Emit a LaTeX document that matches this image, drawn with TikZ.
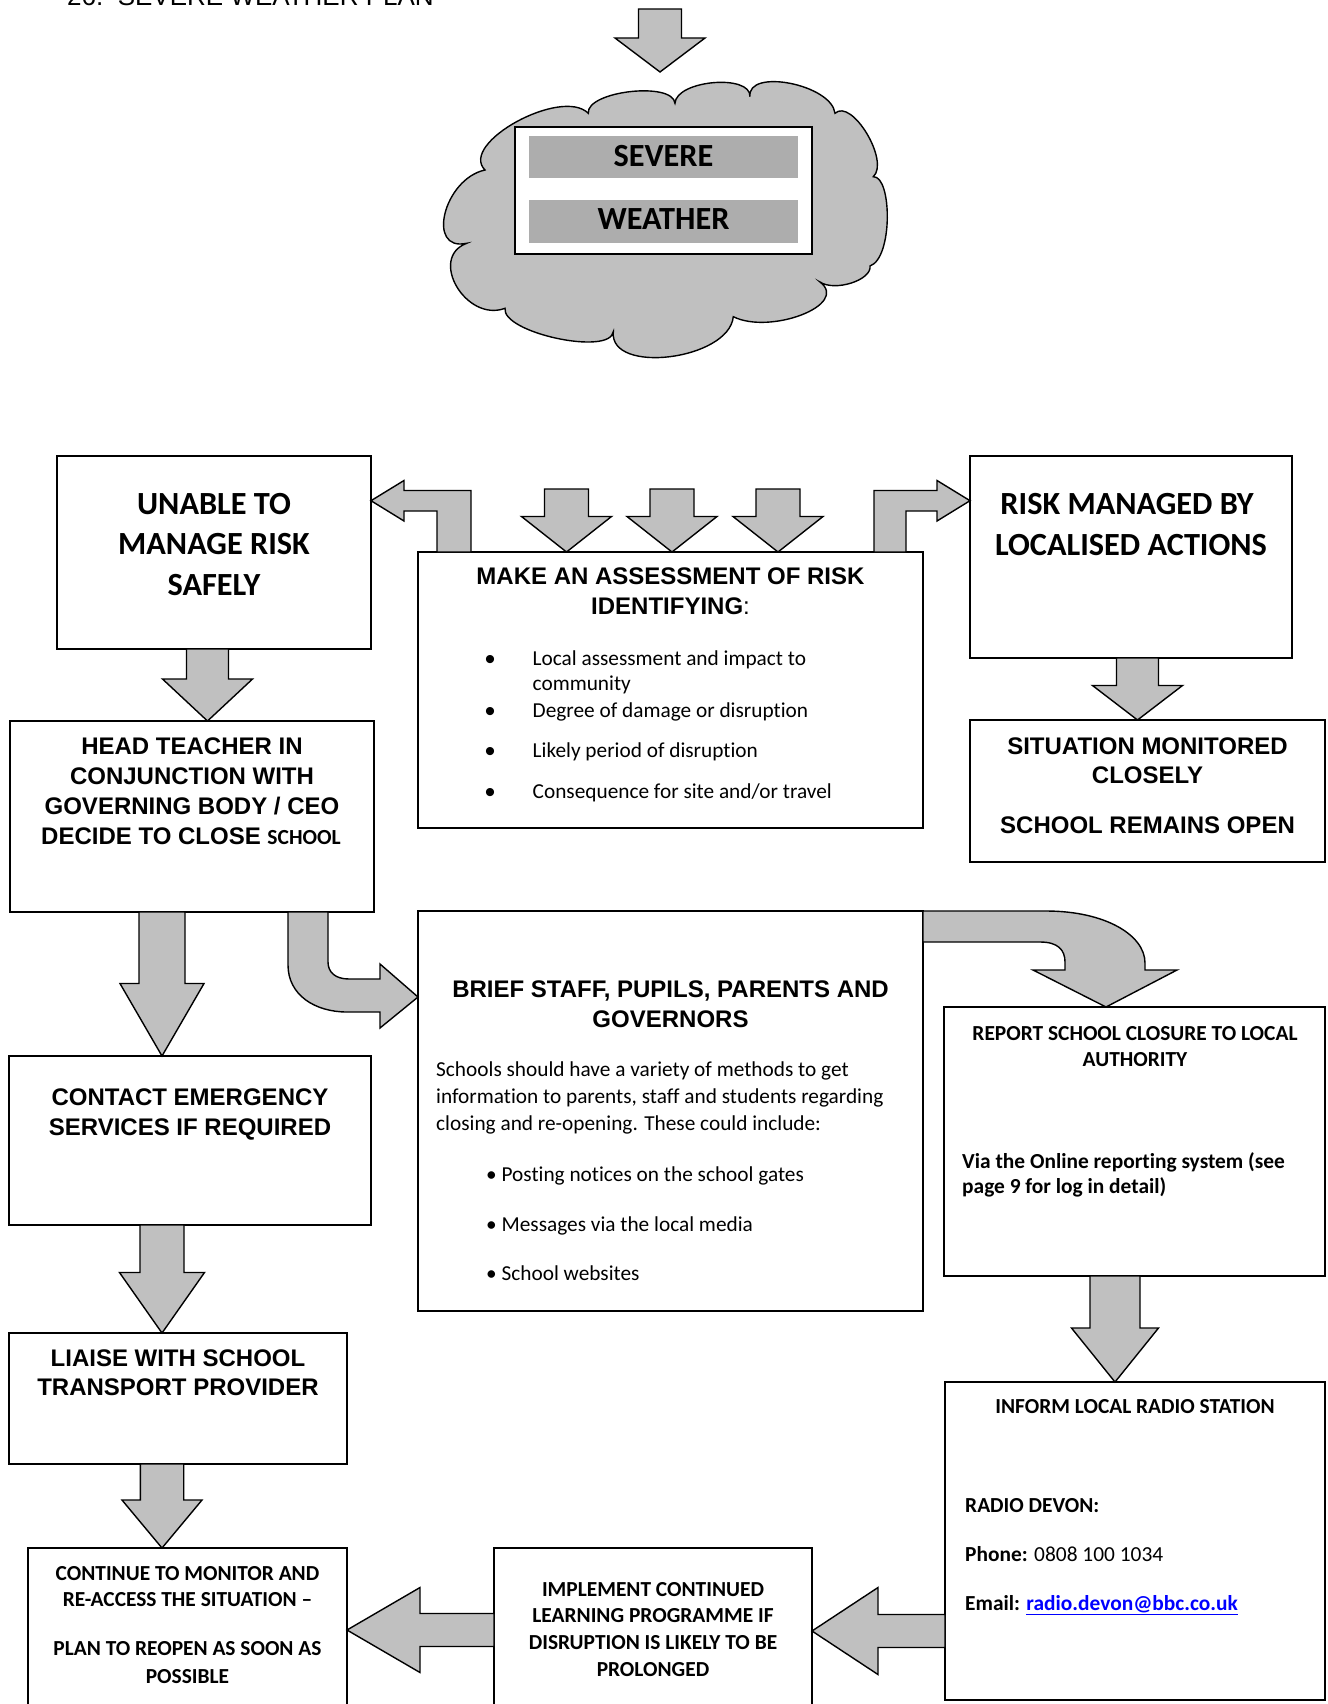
\documentclass[tikz,border=0pt]{standalone}
\usepackage{fontspec}
\setmainfont{Carlito}[Ligatures=NoCommon]
\newfontfamily\arialf{Liberation Sans}
\newfontfamily\calf{Carlito}[Ligatures=NoCommon]
\usetikzlibrary{calc,fit}
\definecolor{arrowgray}{HTML}{C0C0C0}
\definecolor{bargray}{HTML}{ADADAD}
\definecolor{linkblue}{HTML}{0000FF}
\tikzset{
  box/.style={draw=black, line width=1.8pt, fill=white, inner sep=0pt, outer sep=0pt},
  barrow/.style={draw=black, line width=1.4pt, fill=arrowgray, line join=miter},
  ab/.style={font=\arialf\bfseries\fontsize{24}{28}\selectfont, anchor=base, inner sep=0pt},
  cbig/.style={font=\calf\bfseries\fontsize{32.3}{38}\selectfont, anchor=base, inner sep=0pt},
  cb/.style={font=\calf\bfseries\fontsize{21.4}{25}\selectfont, anchor=base, inner sep=0pt},
  cbl/.style={font=\calf\bfseries\fontsize{21.4}{25}\selectfont, anchor=base west, inner sep=0pt},
  cr/.style={font=\calf\fontsize{21.3}{25}\selectfont, anchor=base west, inner sep=0pt},
  bul/.style={font=\arialf\fontsize{30}{34}\selectfont, anchor=base, inner sep=0pt},
}
% vertical block arrow: #1 start (top centre), #2 tip, #3 shaft half width, #4 head half width, #5 head length
\newcommand\darrow[5]{%
  \draw[barrow] let \p1=#1, \p2=#2 in
   (\x1-#3pt,\y1) -- (\x1+#3pt,\y1) -- (\x1+#3pt,\y2+#5pt) -- (\x1+#4pt,\y2+#5pt)
   -- (\x2,\y2) -- (\x1-#4pt,\y2+#5pt) -- (\x1-#3pt,\y2+#5pt) -- cycle;}
% left-pointing block arrow: #1 start (right centre), #2 tip
\newcommand\larrow[5]{%
  \draw[barrow] let \p1=#1, \p2=#2 in
   (\x1,\y1+#3pt) -- (\x2+#5pt,\y1+#3pt) -- (\x2+#5pt,\y1+#4pt) -- (\x2,\y2)
   -- (\x2+#5pt,\y1-#4pt) -- (\x2+#5pt,\y1-#3pt) -- (\x1,\y1-#3pt) -- cycle;}
\begin{document}
\begin{tikzpicture}[x=1pt,y=-1pt]
\useasboundingbox (0,0) rectangle (1327,1704);
\clip (0,0) rectangle (1327,1704);
\fill[white] (0,0) rectangle (1327,1704);

% title, cut off at the top edge
\node[font=\arialf\fontsize{26}{30}\selectfont, anchor=base west, inner sep=0pt] (title) at (67,5.5) {26.\ \ SEVERE WEATHER PLAN};

% top arrow
\coordinate (topin) at (660,9);
\coordinate (toptip) at (660,72);
\darrow{(topin)}{(toptip)}{21.5}{45}{34}

% cloud
\draw[line width=1.4pt, fill=arrowgray] (485,170)
 .. controls (458.3,143.3) and (561.7,86.7) .. (588.3,113.3)
 .. controls (586.1,91.1) and (672.8,81.1) .. (675,103.3)
 .. controls (676.1,80.2) and (751.1,73.6) .. (750,96.7)
 .. controls (746.7,67.8) and (831.7,84.4) .. (835,113.3)
 .. controls (851.7,97.7) and (890,161.1) .. (873.3,176.7)
 .. controls (892,176) and (893,258) .. (870,266)
 .. controls (872,280) and (835,292) .. (820,282)
 .. controls (850,305) and (770,335) .. (733.3,316.7)
 .. controls (728.9,360) and (608.9,375) .. (613.3,331.7)
 .. controls (610,356.1) and (501.7,332.7) .. (505,308.3)
 .. controls (466.2,322.8) and (427.9,257.8) .. (466.7,243.3)
 .. controls (425.6,252.1) and (443.9,178.8) .. (485,170) -- cycle;
\node[draw=black, line width=2.2pt, fill=white, inner sep=0pt, outer sep=0pt, fit={(515,127) (812,254)}] (sw) {};
\node[fill=bargray, inner sep=0pt, fit={(529,136) (798,178)}] (bar1) {};
\node[fill=bargray, inner sep=0pt, fit={(529,200) (798,243)}] (bar2) {};
\node[cbig] (severe) at (663.5,166.7) {SEVERE};
\node[cbig] (weather) at (663.5,230) {WEATHER};

% boxes
\node[box, fit={(57,456) (371,649)}] (unable) {};
\node[box, fit={(418,552) (923,828)}] (assess) {};
\node[box, fit={(970,456) (1292,658)}] (risk) {};
\node[box, fit={(970,720) (1325,862)}] (situ) {};
\node[box, fit={(10,721) (374,912)}] (head) {};
\node[box, fit={(418,911) (923,1311)}] (brief) {};
\node[box, fit={(944,1007) (1325,1276)}] (report) {};
\node[box, fit={(945,1382) (1325,1700)}] (inform) {};
\node[box, fit={(9,1056) (371,1225)}] (contact) {};
\node[box, fit={(9,1333) (347,1464)}] (liaise) {};
\node[box, fit={(28,1548) (347,1760)}] (cont) {};
\node[box, fit={(494,1548) (812,1760)}] (impl) {};

% texts
\node[cbig] (u1) at (214,514) {UNABLE TO};
\node[cbig] (u2) at (214,554) {MANAGE RISK};
\node[cbig] (u3) at (214,595) {SAFELY};

\node[cbig] (r1) at (1127,514) {RISK MANAGED BY};
\node[cbig] (r2) at (1131,555) {LOCALISED ACTIONS};

\node[ab] (s1) at (1147.5,754) {SITUATION MONITORED};
\node[ab] (s2) at (1147.5,783.5) {CLOSELY};
\node[ab] (s3) at (1147.5,833.5) {SCHOOL REMAINS OPEN};

\node[ab] (h1) at (192,754) {HEAD TEACHER IN};
\node[ab] (h2) at (192,784) {CONJUNCTION WITH};
\node[ab] (h3) at (192,814) {GOVERNING BODY / CEO};
\node[ab] (h4) at (191,844) {DECIDE TO CLOSE {\calf\fontsize{21.5}{24}\selectfont SCHOOL}};

\node[ab] (a1) at (670.5,584) {MAKE AN ASSESSMENT OF RISK};
\node[ab] (a2) at (670.5,614) {IDENTIFYING{\mdseries:}};
\node[bul] (ab1) at (490,669) {•};
\node[bul] (ab2) at (490,721) {•};
\node[bul] (ab3) at (490,761) {•};
\node[bul] (ab4) at (490,802) {•};
\node[cr] (at1) at (532.5,665) {Local assessment and impact to};
\node[cr] (at1b) at (532.5,690.5) {community};
\node[cr] (at2) at (532.5,717) {Degree of damage or disruption};
\node[cr] (at3) at (532.5,757) {Likely period of disruption};
\node[cr] (at4) at (532.5,798) {Consequence for site and/or travel};

\node[ab] (c1) at (190,1105) {CONTACT EMERGENCY};
\node[ab] (c2) at (190,1135) {SERVICES IF REQUIRED};

\node[ab] (l1) at (178,1366.5) {LIAISE WITH SCHOOL};
\node[ab] (l2) at (178,1395.5) {TRANSPORT PROVIDER};

\node[ab] (br1) at (670.5,997.5) {BRIEF STAFF, PUPILS, PARENTS AND};
\node[ab] (br2) at (670.5,1027) {GOVERNORS};
\node[cr] (bt1) at (436,1076.5) {Schools should have a variety of methods to get};
\node[cr] (bt2) at (436,1103.5) {information to parents, staff and students regarding};
\node[cr] (bt3) at (436,1130) {closing and re-opening. These could include:};
\node[cr] (bt4) at (486,1181) {• Posting notices on the school gates};
\node[cr] (bt5) at (486,1231.5) {• Messages via the local media};
\node[cr] (bt6) at (486,1280) {• School websites};

\node[cb] (rp1) at (1135,1040) {REPORT SCHOOL CLOSURE TO LOCAL};
\node[cb] (rp2) at (1135,1066.5) {AUTHORITY};
\node[cbl] (rp3) at (962,1168.5) {Via the Online reporting system (see};
\node[cbl] (rp4) at (962,1193.5) {page 9 for log in detail)};

\node[cb] (in1) at (1135,1413.5) {INFORM LOCAL RADIO STATION};
\node[cbl] (in2) at (965,1512.5) {RADIO DEVON:};
\node[cbl] (in3) at (965,1561.5) {Phone: {\mdseries 0808 100 1034}};
\node[cbl] (in4) at (965,1610) {Email: \textcolor{linkblue}{\underline{radio.devon@bbc.co.uk}}};

\node[cb] (co1) at (187.5,1580) {CONTINUE TO MONITOR AND};
\node[cb] (co2) at (187.5,1606) {RE-ACCESS THE SITUATION –};
\node[cb] (co3) at (187.5,1655) {PLAN TO REOPEN AS SOON AS};
\node[cb] (co4) at (187.5,1683) {POSSIBLE};

\node[cb] (im1) at (653,1596) {IMPLEMENT CONTINUED};
\node[cb] (im2) at (653,1622) {LEARNING PROGRAMME IF};
\node[cb] (im3) at (653,1649) {DISRUPTION IS LIKELY TO BE};
\node[cb] (im4) at (653,1676) {PROLONGED};

% straight block arrows
\darrow{(207.5,0 |- unable.south)}{(207.5,0 |- head.north)}{21}{45}{42}
\coordinate (as1) at (566.5,489);
\coordinate (as2) at (672,489);
\coordinate (as3) at (778,489);
\darrow{(as1)}{(566.5,0 |- assess.north)}{22}{45}{35.5}
\darrow{(as2)}{(672,0 |- assess.north)}{22}{45}{35.5}
\darrow{(as3)}{(778,0 |- assess.north)}{22}{45}{35.5}
\darrow{(1137.5,0 |- risk.south)}{(1137.5,0 |- situ.north)}{21}{45}{34.5}
\darrow{(162,0 |- head.south)}{(162,0 |- contact.north)}{23}{42}{72.5}
\darrow{(162,0 |- contact.south)}{(162,0 |- liaise.north)}{22}{42.5}{60.5}
\darrow{(162,0 |- liaise.south)}{(162,0 |- cont.north)}{21.7}{40}{48}
\darrow{(1115,0 |- report.south)}{(1115,0 |- inform.north)}{25}{43.5}{54}
\larrow{(inform.west |- 0,1631)}{(impl.east |- 0,1631)}{16.5}{43.5}{66}
\larrow{(impl.west |- 0,1630)}{(cont.east |- 0,1630)}{16.5}{42.5}{73}

% bent arrows from the assessment box
\draw[barrow] (471,0 |- assess.north) -- (471,490.5) -- (404,490.5) -- (404,480.5)
  -- (unable.east |- 0,500.7) -- (404,521) -- (404,511) -- (437,511) -- (437,0 |- assess.north) -- cycle;
\draw[barrow] (874,0 |- assess.north) -- (874,490.5) -- (937,490.5) -- (937,480.5)
  -- (risk.west |- 0,500.7) -- (937,521) -- (937,511) -- (906,511) -- (906,0 |- assess.north) -- cycle;

% curved arrow head -> brief
\draw[barrow] (288,0 |- head.south) -- (288,965) .. controls (288,995) and (315,1012) .. (347,1012)
  -- (380,1012) -- (380,1028) -- (brief.west |- 0,997) -- (380,964) -- (380,979) -- (349,979)
  .. controls (335,979) and (328,972) .. (328,962) -- (328,0 |- head.south) -- cycle;

% curved arrow brief -> report
\draw[barrow] (brief.east |- 0,911) -- (1046,911) .. controls (1105,911) and (1145,935) .. (1145,963)
  -- (1145,970) -- (1177,970) -- (1106,0 |- report.north) -- (1033,970) -- (1065,970) -- (1065,962)
  .. controls (1065,950) and (1058,942) .. (1040,942) -- (brief.east |- 0,942) -- cycle;
\end{tikzpicture}
\end{document}
